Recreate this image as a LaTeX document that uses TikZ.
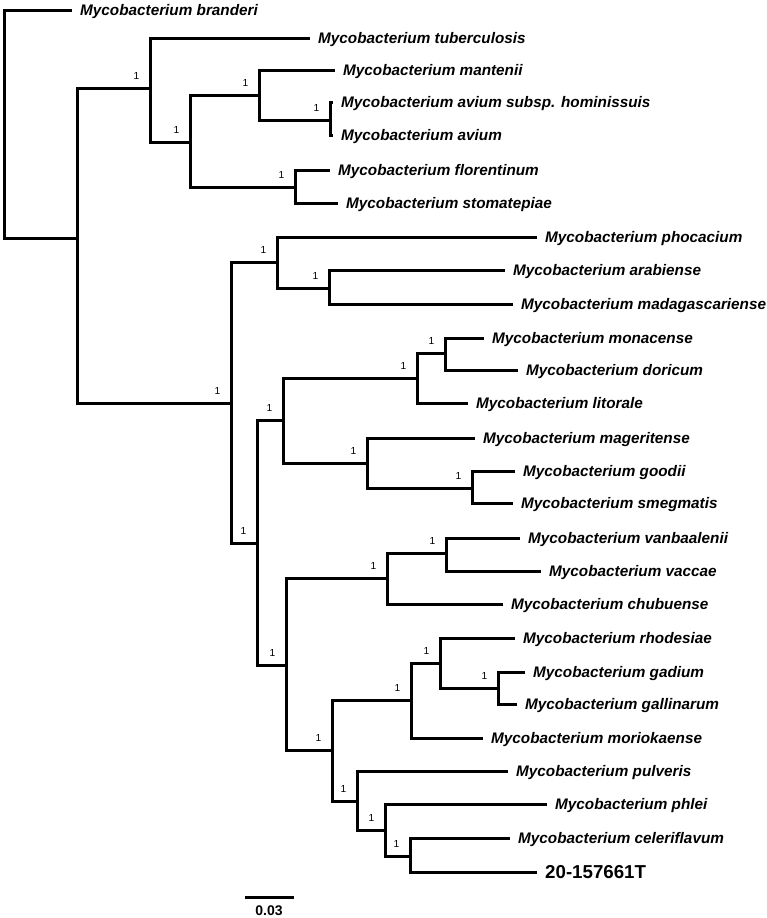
\documentclass[tikz,border=0pt]{standalone}
\usepackage{fontspec}
\setmainfont{Liberation Sans}
\tikzset{
  br/.style={line width=3pt, line join=miter},
  leaf/.style={anchor=west, inner xsep=8pt, inner ysep=0pt, text height=11pt, text depth=0pt,
    font=\fontsize{15.3}{18}\selectfont\bfseries\itshape},
  leafT/.style={anchor=west, inner xsep=8pt, inner ysep=0pt, text height=13.4pt, text depth=0pt,
    font=\fontsize{18.7}{22}\selectfont\bfseries},
  sup/.style={anchor=south east, inner sep=0pt, xshift=-10.5pt, yshift=8pt,
    font=\fontsize{10.2}{12}\selectfont},
}
\begin{document}
\begin{tikzpicture}[x=1pt,y=-1pt]
\useasboundingbox (0,0) rectangle (767,918);
% internal nodes
\coordinate (R0) at (4,124);
\coordinate (A) at (77,238);
\coordinate (B) at (150,88);
\coordinate (C) at (190,142);
\coordinate (D) at (259,95);
\coordinate (E) at (330,120);
\coordinate (F) at (295,187);
\coordinate (G) at (231,403);
\coordinate (H) at (277,262);
\coordinate (I) at (329,288);
\coordinate (J) at (257,543);
\coordinate (K) at (283,420);
\coordinate (L) at (417,378);
\coordinate (M) at (445,353);
\coordinate (N) at (367,463);
\coordinate (O) at (472,488);
\coordinate (P) at (286,665);
\coordinate (R) at (387,578);
\coordinate (S) at (446,553);
\coordinate (Q) at (332,750);
\coordinate (T) at (411,700);
\coordinate (U) at (440,663);
\coordinate (V) at (498,688);
\coordinate (W) at (357,801);
\coordinate (X) at (385,830);
\coordinate (Y) at (410,856);
% leaves
\node[leaf] (l1) at (72,10) {Mycobacterium branderi};
\node[leaf] (l2) at (310,38) {Mycobacterium tuberculosis};
\node[leaf] (l3) at (335,70) {Mycobacterium mantenii};
\node[leaf] (l4) at (333,102) {Mycobacterium avium subsp. hominissuis};
\node[leaf] (l5) at (333,135) {Mycobacterium avium};
\node[leaf] (l6) at (330,170) {Mycobacterium florentinum};
\node[leaf] (l7) at (338,203) {Mycobacterium stomatepiae};
\node[leaf] (l8) at (537,237) {Mycobacterium phocacium};
\node[leaf] (l9) at (505,270) {Mycobacterium arabiense};
\node[leaf] (l10) at (513,304) {Mycobacterium madagascariense};
\node[leaf] (l11) at (484,338) {Mycobacterium monacense};
\node[leaf] (l12) at (518,370) {Mycobacterium doricum};
\node[leaf] (l13) at (468,403) {Mycobacterium litorale};
\node[leaf] (l14) at (475,438) {Mycobacterium mageritense};
\node[leaf] (l15) at (515,471) {Mycobacterium goodii};
\node[leaf] (l16) at (513,503) {Mycobacterium smegmatis};
\node[leaf] (l17) at (520,538) {Mycobacterium vanbaalenii};
\node[leaf] (l18) at (541,571) {Mycobacterium vaccae};
\node[leaf] (l19) at (503,604) {Mycobacterium chubuense};
\node[leaf] (l20) at (515,638) {Mycobacterium rhodesiae};
\node[leaf] (l21) at (525,672) {Mycobacterium gadium};
\node[leaf] (l22) at (517,704) {Mycobacterium gallinarum};
\node[leaf] (l23) at (483,738) {Mycobacterium moriokaense};
\node[leaf] (l24) at (508,771) {Mycobacterium pulveris};
\node[leaf] (l25) at (547,804) {Mycobacterium phlei};
\node[leaf] (l26) at (510,838) {Mycobacterium celeriflavum};
\node[leafT] (l27) at (537,872) {20-157661T};
% branches
\draw[br] (R0) |- (l1.west);
\draw[br] (R0) |- (A);
\draw[br] (A) |- (B);  \draw[br] (A) |- (G);
\draw[br] (B) |- (l2.west); \draw[br] (B) |- (C);
\draw[br] (C) |- (D); \draw[br] (C) |- (F);
\draw[br] (D) |- (l3.west); \draw[br] (D) |- (E);
\draw[br] (E) |- (l4.west); \draw[br] (E) |- (l5.west);
\draw[br] (F) |- (l6.west); \draw[br] (F) |- (l7.west);
\draw[br] (G) |- (H); \draw[br] (G) |- (J);
\draw[br] (H) |- (l8.west); \draw[br] (H) |- (I);
\draw[br] (I) |- (l9.west); \draw[br] (I) |- (l10.west);
\draw[br] (J) |- (K); \draw[br] (J) |- (P);
\draw[br] (K) |- (L); \draw[br] (K) |- (N);
\draw[br] (L) |- (M); \draw[br] (L) |- (l13.west);
\draw[br] (M) |- (l11.west); \draw[br] (M) |- (l12.west);
\draw[br] (N) |- (l14.west); \draw[br] (N) |- (O);
\draw[br] (O) |- (l15.west); \draw[br] (O) |- (l16.west);
\draw[br] (P) |- (R); \draw[br] (P) |- (Q);
\draw[br] (R) |- (S); \draw[br] (R) |- (l19.west);
\draw[br] (S) |- (l17.west); \draw[br] (S) |- (l18.west);
\draw[br] (Q) |- (T); \draw[br] (Q) |- (W);
\draw[br] (T) |- (U); \draw[br] (T) |- (l23.west);
\draw[br] (U) |- (l20.west); \draw[br] (U) |- (V);
\draw[br] (V) |- (l21.west); \draw[br] (V) |- (l22.west);
\draw[br] (W) |- (l24.west); \draw[br] (W) |- (X);
\draw[br] (X) |- (l25.west); \draw[br] (X) |- (Y);
\draw[br] (Y) |- (l26.west); \draw[br] (Y) |- (l27.west);
% support values
\foreach \n in {B,C,D,E,F,G,H,I,J,K,L,M,N,O,P,R,S,Q,T,U,V,W,X,Y}
  \node[sup] (s\n) at (\n) {1};
% scale bar
\coordinate (sb1) at (245,897);
\coordinate (sb2) at (294,897);
\draw[line width=3pt] (sb1) -- (sb2);
\node[anchor=base, inner sep=0pt, font=\fontsize{14}{16}\selectfont\bfseries] (sbl) at (269,915) {0.03};
\end{tikzpicture}
\end{document}
